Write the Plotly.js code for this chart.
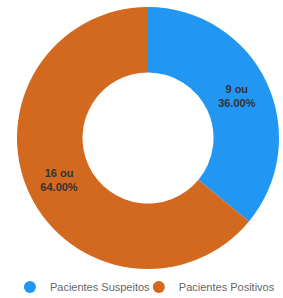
<!DOCTYPE html>
<html>
<head>
<meta charset="utf-8">
<script src="https://cdn.plot.ly/plotly-3.0.1.min.js"></script>
<style>html,body{margin:0;padding:0;background:#fff;}#chart{width:283px;height:298px;}</style>
</head>
<body>
<div id="chart"></div>
<script>
const categories = ["Pacientes Suspeitos", "Pacientes Positivos"];
const values = [9, 16];
const colors = ["#2196F3", "#D2691E"];

const pie = {
  type: "pie",
  labels: categories,
  values: values,
  hole: 0.5,
  sort: false,
  direction: "clockwise",
  rotation: 0,
  marker: {colors: colors, line: {width: 0}},
  texttemplate: "%{value} ou<br>%{percent:.2%}",
  textposition: "inside",
  insidetextorientation: "horizontal",
  textfont: {family: "Liberation Sans, Arial, sans-serif", size: 11, color: "#333333", weight: "bold"},
  hoverinfo: "none",
  showlegend: false
};

const legendIds = ["legend", "legend2"];
const legendTraces = categories.map((c, i) => ({
  type: "scatter",
  mode: "markers",
  x: [null], y: [null],
  name: c,
  legend: legendIds[i],
  marker: {color: colors[i], size: 12, symbol: "circle"},
  showlegend: true,
  hoverinfo: "none"
}));

const legendFont = {family: "Liberation Sans, Arial, sans-serif", size: 11, color: "#666666"};
const layout = {
  width: 283,
  height: 298,
  margin: {l: 17, r: 4, t: 7, b: 29, autoexpand: false},
  paper_bgcolor: "#ffffff",
  plot_bgcolor: "#ffffff",
  xaxis: {visible: false},
  yaxis: {visible: false},
  showlegend: true,
  legend: {
    orientation: "h", x: -0.027, xanchor: "left",
    y: -0.069, yanchor: "middle",
    font: legendFont, bgcolor: "rgba(0,0,0,0)"
  },
  legend2: {
    orientation: "h", x: 0.465, xanchor: "left",
    y: -0.069, yanchor: "middle",
    font: legendFont, bgcolor: "rgba(0,0,0,0)"
  }
};

Plotly.newPlot("chart", [pie].concat(legendTraces), layout, {displayModeBar: false, staticPlot: true});
</script>
</body>
</html>
